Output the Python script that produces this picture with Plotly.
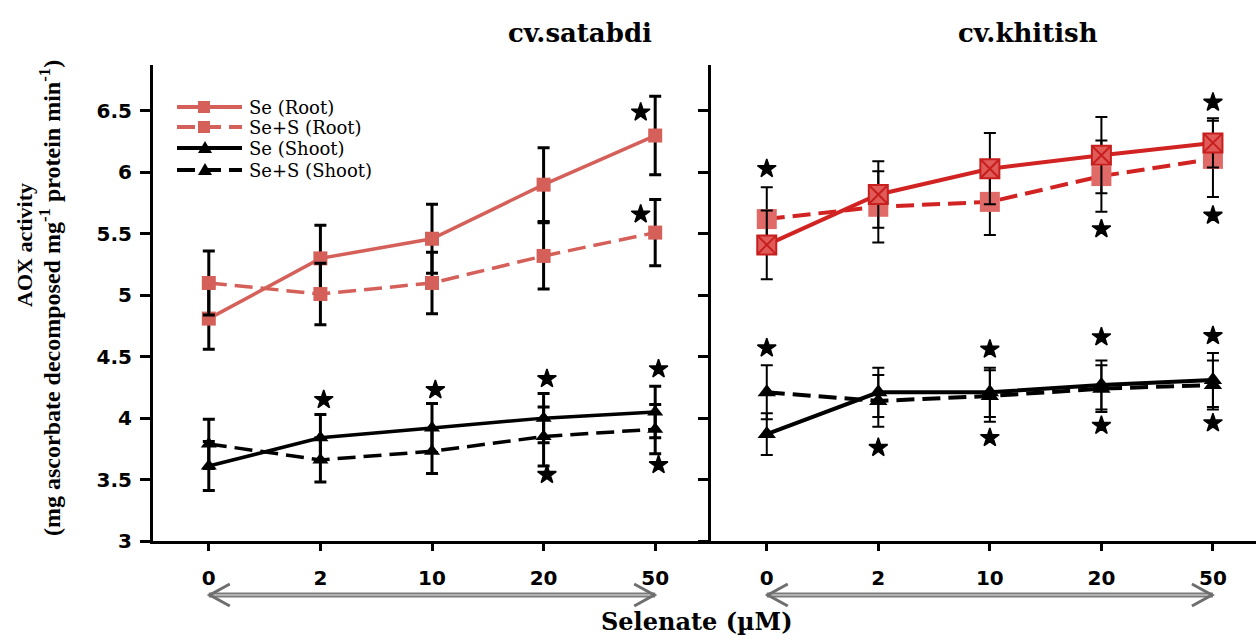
import plotly.graph_objects as go

# Selenate concentrations (µM) shown as evenly spaced categories
conc_labels = ["0", "2", "10", "20", "50"]
conc_pos = [0, 1, 2, 3, 4]

# cv. satabdi
sat_se_root = [4.81, 5.30, 5.46, 5.90, 6.30]
sat_se_root_err = [0.25, 0.27, 0.28, 0.30, 0.32]
sat_ses_root = [5.10, 5.01, 5.10, 5.32, 5.51]
sat_ses_root_err = [0.26, 0.25, 0.25, 0.27, 0.27]
sat_se_shoot = [3.61, 3.84, 3.92, 4.00, 4.05]
sat_se_shoot_err = [0.20, 0.19, 0.20, 0.20, 0.21]
sat_ses_shoot = [3.79, 3.66, 3.73, 3.85, 3.91]
sat_ses_shoot_err = [0.20, 0.18, 0.18, 0.24, 0.20]

# cv. khitish
khi_se_root = [5.41, 5.82, 6.03, 6.14, 6.24]
khi_se_root_err = [0.28, 0.27, 0.29, 0.31, 0.20]
khi_ses_root = [5.62, 5.72, 5.76, 5.97, 6.11]
khi_ses_root_err = [0.26, 0.29, 0.27, 0.29, 0.31]
khi_se_shoot = [3.87, 4.21, 4.21, 4.27, 4.31]
khi_se_shoot_err = [0.17, 0.20, 0.20, 0.20, 0.22]
khi_ses_shoot = [4.21, 4.14, 4.18, 4.24, 4.27]
khi_ses_shoot_err = [0.22, 0.21, 0.21, 0.19, 0.20]

# significance markers (category position, value)
sat_star_x = [3.87, 3.87, 1.03, 2.03, 3.03, 3.03, 4.03, 4.03]
sat_star_y = [6.49, 5.66, 4.15, 4.23, 4.32, 3.54, 4.40, 3.62]
khi_star_x = [0, 3, 4, 4, 0, 1, 2, 2, 3, 3, 4, 4]
khi_star_y = [6.03, 5.54, 6.57, 5.65, 4.57, 3.76, 4.56, 3.84, 4.66, 3.94, 4.67, 3.96]

legend_names = ["Se (Root)", "Se+S (Root)", "Se (Shoot)", "Se+S (Shoot)"]

W, H = 1256, 639
ML, MR, MT, MB = 153, 0, 65, 98
PW = W - ML - MR
PH = H - MT - MB


def fx(p):
    return (p - ML) / PW


def fy(p):
    return (H - MB - p) / PH


SPLIT = fx(711)
SALMON = "#d5605a"
RED = "#d22323"
DASH = "18px,8px"

fig = go.Figure()


def series(xa, ya, y, err, color, dash, symbol, size, fill, edge, edge_w, lw, ew):
    fig.add_trace(go.Scatter(
        x=conc_pos, y=y, xaxis=xa, yaxis=ya, mode="lines+markers",
        showlegend=False,
        line=dict(color=color, width=lw, dash=dash),
        marker=dict(symbol=symbol, size=size, color=fill,
                    line=dict(color=edge, width=edge_w)),
        error_y=dict(type="data", array=err, color="black",
                     thickness=ew, width=6),
    ))


# left panel
series("x", "y", sat_se_root, sat_se_root_err, SALMON, "solid", "square", 14, SALMON, SALMON, 0, 3.5, 3)
series("x", "y", sat_ses_root, sat_ses_root_err, SALMON, DASH, "square", 14, SALMON, SALMON, 0, 3.5, 3)
series("x", "y", sat_se_shoot, sat_se_shoot_err, "black", "solid", "triangle-up", 14, "black", "black", 0, 3.5, 3)
series("x", "y", sat_ses_shoot, sat_ses_shoot_err, "black", DASH, "triangle-up", 14, "black", "black", 0, 3.5, 3)

# right panel
series("x2", "y2", khi_ses_root, khi_ses_root_err, RED, DASH, "square", 20, "#e06a68", "#e06a68", 0, 4, 2)
series("x2", "y2", khi_se_root, khi_se_root_err, RED, "solid", "square-x", 19, "#e05a58", "#c81e1e", 2, 4, 2)
series("x2", "y2", khi_ses_shoot, khi_ses_shoot_err, "black", DASH, "triangle-up", 16, "black", "black", 0, 4, 2)
series("x2", "y2", khi_se_shoot, khi_se_shoot_err, "black", "solid", "triangle-up", 16, "black", "black", 0, 4, 2)

star_marker = dict(symbol="star", size=14, color="black", line=dict(color="black", width=1.5))
fig.add_trace(go.Scatter(x=sat_star_x, y=sat_star_y, xaxis="x", yaxis="y", mode="markers",
                         showlegend=False, marker=star_marker))
fig.add_trace(go.Scatter(x=khi_star_x, y=khi_star_y, xaxis="x2", yaxis="y2", mode="markers",
                         showlegend=False, marker=star_marker))

tickfont = dict(family="DejaVu Sans", size=20, color="black", weight="bold")
xcommon = dict(tickvals=conc_pos, ticktext=conc_labels, showline=True, linewidth=3,
               linecolor="black", ticks="outside", ticklen=7, tickwidth=3, tickcolor="black",
               tickfont=tickfont, showgrid=False, zeroline=False, ticklabelstandoff=10,
               fixedrange=True)
ycommon = dict(range=[3, 6.874], tick0=3, dtick=0.5, showline=True, linewidth=3,
               linecolor="black", ticks="outside", ticklen=10, tickwidth=3, tickcolor="black",
               tickfont=tickfont, showgrid=False, zeroline=False, ticklabelstandoff=4)

fig.update_layout(
    width=W, height=H, margin=dict(l=ML, r=MR, t=MT, b=MB, pad=0),
    paper_bgcolor="white", plot_bgcolor="white", showlegend=False,
    xaxis=dict(domain=[0, SPLIT], range=[-0.5, 4.5], anchor="y", **xcommon),
    xaxis2=dict(domain=[SPLIT, 1], range=[-0.5, 4.386], anchor="y2", **xcommon),
    yaxis=dict(anchor="x", **ycommon),
    yaxis2=dict(anchor="x2", showticklabels=False, **ycommon),
)

serif_b = dict(family="DejaVu Serif", color="black", weight="bold")
ann = []


def label(text, x, y, font, **kw):
    ann.append(dict(text=text, x=x, y=y, xref="paper", yref="paper", showarrow=False,
                    xanchor=kw.pop("xanchor", "center"), yanchor="middle", font=font, **kw))


label("cv.satabdi", fx(580), fy(33), dict(size=26, **serif_b))
label("cv.khitish", fx(1028), fy(33), dict(size=26, **serif_b))
label("Selenate (µM)", fx(697), fy(621), dict(size=24, **serif_b))
label("AOX activity", fx(24), fy(245),
      dict(family="Liberation Serif", size=22, color="black", weight="bold"), textangle=-90)
label("(mg ascorbate decomposed mg<sup>-1</sup> protein min<sup>-1</sup>)", fx(50), fy(298),
      dict(family="Liberation Serif", size=24, color="black", weight="bold"), textangle=-90)

shapes = []

# double-headed concentration arrows under each panel
ARROW_Y = fy(595)
for xr in ("x", "x2"):
    for col, w in (("#7a7a7a", 5), ("#c4c4c4", 1.5)):
        shapes.append(dict(type="line", xref=xr, yref="paper", x0=conc_pos[0], x1=conc_pos[-1],
                           y0=ARROW_Y, y1=ARROW_Y, line=dict(color=col, width=w)))
    for anchor, path in ((conc_pos[0], "M21,11 L1,0 L21,-11"), (conc_pos[-1], "M-21,11 L-1,0 L-21,-11")):
        shapes.append(dict(type="path", xref=xr, yref="paper", xsizemode="pixel",
                           ysizemode="pixel", xanchor=anchor, yanchor=ARROW_Y, path=path,
                           line=dict(color="#6e6e6e", width=3)))

# legend block
legend_rows = [107, 127, 148, 170]
legend_styles = [(SALMON, None, "square"), (SALMON, "dash", "square"),
                 ("black", None, "triangle"), ("black", "dash", "triangle")]
for name, row, (col, dash, mk) in zip(legend_names, legend_rows, legend_styles):
    shapes.append(dict(type="line", xref="paper", yref="paper", x0=fx(177), x1=fx(242),
                       y0=fy(row), y1=fy(row),
                       line=dict(color=col, width=4, dash=DASH if dash else "solid")))
    if mk == "square":
        shapes.append(dict(type="rect", xref="paper", yref="paper", xsizemode="pixel",
                           ysizemode="pixel", xanchor=fx(204), yanchor=fy(row),
                           x0=-6, x1=6, y0=-6, y1=6, fillcolor=col, line=dict(width=0)))
    else:
        shapes.append(dict(type="path", xref="paper", yref="paper", xsizemode="pixel",
                           ysizemode="pixel", xanchor=fx(205), yanchor=fy(row),
                           path="M-7,-5 L7,-5 L0,7 Z", fillcolor=col, line=dict(width=0)))
    label(name, fx(247), fy(row), dict(family="DejaVu Serif", size=18, color="black"),
          xanchor="left")

fig.update_layout(annotations=ann, shapes=shapes)

fig.write_html("out.html")
